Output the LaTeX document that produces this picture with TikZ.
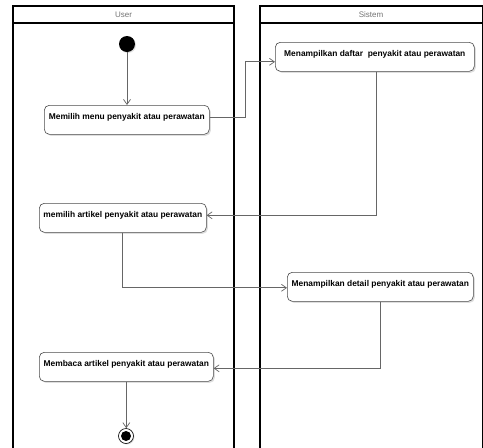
\documentclass[tikz,border=0pt]{standalone}
\usepackage{fontspec}
\setmainfont{Liberation Sans}
\usetikzlibrary{arrows.meta,shadows,calc}
\begin{document}
\begin{tikzpicture}[x=1pt,y=-1pt,
  lane/.style={draw=black,line width=1.1pt,fill=white},
  lanetitle/.style={text=black!55,font=\fontsize{8}{9}\selectfont},
  act/.style={draw=black!70,line width=0.6pt,rounded corners=5pt,fill=white,
    drop shadow={shadow xshift=1.5pt,shadow yshift=-1.5pt,fill=black!25,opacity=0.5},
    anchor=north west,font=\bfseries\fontsize{8.4}{9}\selectfont,
    inner xsep=1pt,inner ysep=3pt,text height=11pt,text depth=12pt},
  flow/.style={draw=black!60,line width=0.7pt,-{Straight Barb[length=5pt,width=7pt]}}]
  \useasboundingbox (0,0) rectangle (483,448);
  \fill[white] (0,0) rectangle (483,448);
  % swimlanes
  \draw[lane] (13,449) -- (13,6) -- (234,6) -- (234,449);
  \draw[black,line width=1.1pt] (13,23) -- (234,23);
  \node[lanetitle] (userlbl) at (123.5,14.5) {User};
  \draw[lane] (260,449) -- (260,6) -- (482.5,6) -- (482.5,449);
  \draw[black,line width=1.1pt] (260,23) -- (482.5,23);
  \node[lanetitle] (sistemlbl) at (371,14.5) {Sistem};
  % start and end
  \node[circle,fill=black,minimum size=16pt,inner sep=0pt,
    drop shadow={shadow xshift=1pt,shadow yshift=-1pt,fill=black!25,opacity=0.5}] (start) at (127,44) {};
  \node[circle,draw=black,line width=0.6pt,fill=white,minimum size=15pt,inner sep=0pt,
    drop shadow={shadow xshift=1pt,shadow yshift=-1pt,fill=black!25,opacity=0.5}] (end) at (126,436) {};
  \fill[black] (end.center) circle (5pt);
  % activities
  \node[act,minimum width=165pt] (n1) at (44,105) {Memilih menu penyakit atau perawatan};
  \node[act,minimum width=199pt] (n2) at (275,42) {Menampilkan daftar\ \ penyakit atau perawatan};
  \node[act,minimum width=167pt] (n3) at (39,203) {memilih artikel penyakit atau perawatan};
  \node[act,minimum width=186pt] (n4) at (287,272) {Menampilkan detail penyakit atau perawatan};
  \node[act,minimum width=174pt] (n5) at (39,352) {Membaca artikel penyakit atau perawatan};
  % control flow
  \draw[flow] (start) -- (n1.north -| start);
  \draw[flow] ([yshift=2pt]n1.east) -- ++(36,0) |- ([yshift=-5pt]n2.west);
  \draw[flow] ([xshift=1.5pt]n2.south) |- ([yshift=2.5pt]n3.east);
  \draw[flow] (n3.south) |- ([yshift=-1pt]n4.west);
  \draw[flow] (n4.south) |- ([yshift=-1.5pt]n5.east);
  \draw[flow] (n5.south) -- (end.north -| n5.south);
\end{tikzpicture}
\end{document}
